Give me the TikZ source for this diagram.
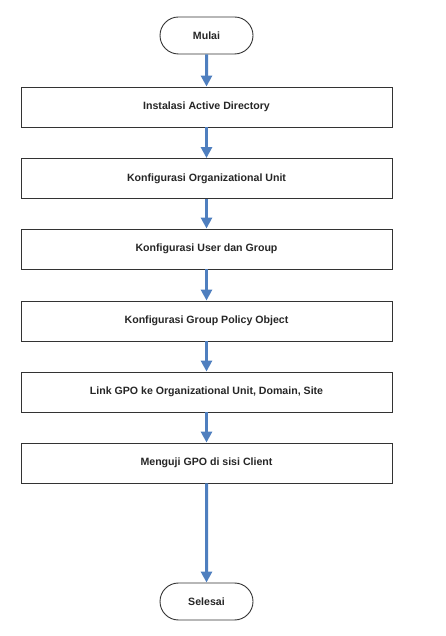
\documentclass[tikz,border=0pt]{standalone}
\usepackage{fontspec}
\setmainfont{Liberation Sans}
\usetikzlibrary{arrows.meta,shapes.misc}
\definecolor{arrowblue}{HTML}{4F7FBF}
\definecolor{boxline}{HTML}{333333}
\begin{document}
\begin{tikzpicture}[x=1pt,y=1pt,
  stepbox/.style={draw=boxline,line width=0.9pt,minimum width=371pt,minimum height=40pt,inner sep=0pt,font=\fontsize{10.6}{12}\selectfont\bfseries,text=black!85},
  term/.style={draw=boxline,line width=0.9pt,rounded rectangle,minimum width=93pt,minimum height=37pt,inner sep=0pt,font=\fontsize{10.6}{12}\selectfont\bfseries,text=black!85},
  flow/.style={draw=arrowblue,line width=3pt,-{Triangle[width=11pt,length=11pt]}}]
\useasboundingbox (0,0) rectangle (446,636);
\node[term] (start) at (206.5,600.5) {Mulai};
\node[stepbox] (s1) at (206.5,529) {Instalasi Active Directory};
\node[stepbox] (s2) at (206.5,457.5) {Konfigurasi Organizational Unit};
\node[stepbox] (s3) at (206.5,387) {Konfigurasi User dan Group};
\node[stepbox] (s4) at (206.5,315) {Konfigurasi Group Policy Object};
\node[stepbox] (s5) at (206.5,244) {Link GPO ke Organizational Unit, Domain, Site};
\node[stepbox] (s6) at (206.5,173) {Menguji GPO di sisi Client};
\node[term] (end) at (206.5,34.5) {Selesai};
\draw[flow] (start) -- (s1);
\draw[flow] (s1) -- (s2);
\draw[flow] (s2) -- (s3);
\draw[flow] (s3) -- (s4);
\draw[flow] (s4) -- (s5);
\draw[flow] (s5) -- (s6);
\draw[flow] (s6) -- (end);
\end{tikzpicture}
\end{document}
